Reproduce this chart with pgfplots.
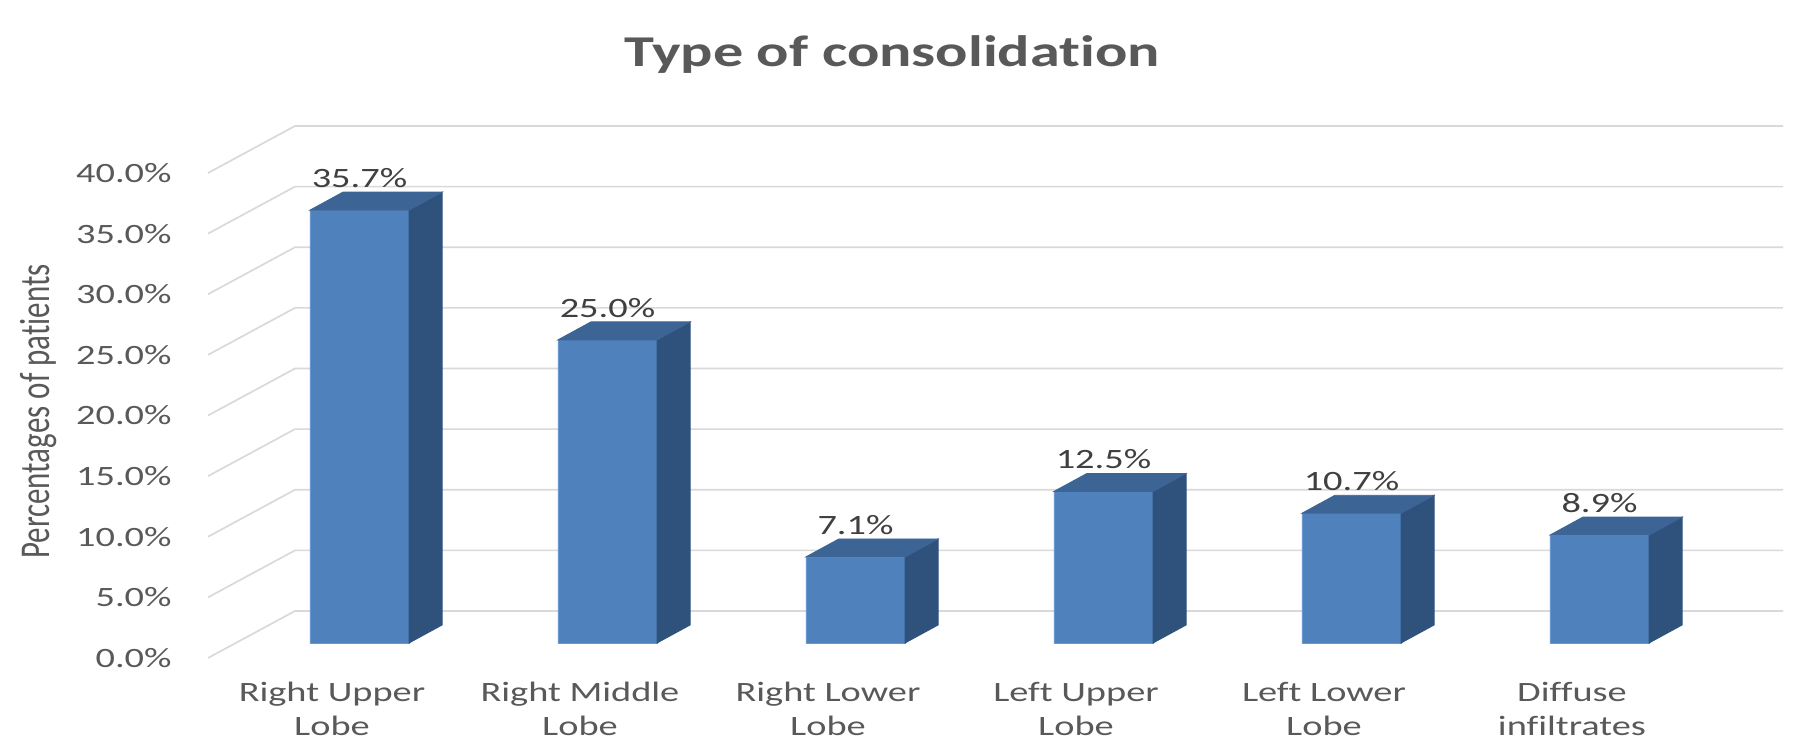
\documentclass[border=0pt]{standalone}
\usepackage{pgfplots}
\pgfplotsset{compat=1.18}
\usepackage{pgfplotstable}
\usepackage{graphicx}
\usepackage{fontspec}
\setmainfont{Carlito}[FakeStretch=1.37, Ligatures={NoCommon}]
\newfontfamily\plainfont{Carlito}[Ligatures={NoCommon}]
\definecolor{frontc}{HTML}{4F81BD}
\definecolor{topc}{HTML}{3C6494}
\definecolor{sidec}{HTML}{2F527D}
\definecolor{edgec}{HTML}{6C98D0}
\definecolor{gridc}{HTML}{D9D9D9}
\definecolor{txt}{HTML}{595959}
\definecolor{lbl}{HTML}{404040}
\pgfdeclareplotmark{nothing}{}
\pgfplotstableread{
x y
0 35.7
1 25.0
2 7.1
3 12.5
4 10.7
5 8.9
}\data
\begin{document}
\begin{tikzpicture}
\begin{axis}[
  scale only axis, width=907pt, height=378pt,
  xmin=-1.449597, xmax=5.864919,
  ymin=-9.319588, ymax=53.030928,
  hide axis, clip=false,
  /pgf/number format/assume math mode=true,
  anchor=south west, at={(0,0)},
]
\path (rel axis cs:0,0) rectangle (rel axis cs:1,1);
% wall grid, side diagonals and tick labels
\pgfplotsinvokeforeach{0,5,...,40}{
  \draw[gridc, line width=0.85pt] (axis cs:-0.6109,#1) ++(axis direction cs:0,-1.237) -- ++(axis direction cs:0.3508,3.876) -- ++(axis direction cs:6,0);
  \node[anchor=east, text=txt, font=\fontsize{14}{16}\selectfont, inner sep=0pt, yshift=-7.5pt] at (axis cs:-0.756,#1) {\pgfmathprintnumber[fixed,fixed zerofill,precision=1]{#1}\%};
}
% front faces of the bars with value labels
\addplot[ybar, bar width=0.4, fill=frontc, draw=edgec, line width=0.4pt,
  nodes near coords={\pgfmathprintnumber[fixed,fixed zerofill,precision=1]{\pgfplotspointmeta}\%},
  every node near coord/.append style={anchor=base, yshift=11.25pt, text=lbl, font=\fontsize{14}{16}\selectfont, inner sep=0pt}]
  table[x=x,y=y]{\data};
% side and top faces of the bars
\addplot[scatter, only marks, mark=nothing,
  visualization depends on={rawy \as \val},
  scatter/@pre marker code/.code={
    \fill[sidec] (axis direction cs:0.2,0) -- ++(axis direction cs:0.1331,1.4845) -- ++(axis direction cs:0,-\val) -- ++(axis direction cs:-0.1331,-1.4845) -- cycle;
    \fill[topc] (axis direction cs:-0.2,0) -- (axis direction cs:0.2,0) -- ++(axis direction cs:0.1331,1.4845) -- ++(axis direction cs:-0.4,0) -- cycle;
  },
  scatter/@post marker code/.code={}]
  table[x=x,y=y]{\data};
% title
\node[anchor=base, text=txt, font=\fontsize{22}{26}\selectfont\bfseries] at (axis cs:2.147,47.51) {Type of consolidation};
% y label
\node[rotate=90, anchor=base, text=txt, inner sep=0pt] at (axis cs:-1.252,19.09) {\scalebox{1}[1.37]{\plainfont\fontsize{15.5}{18}\selectfont Percentages of patients}};
% category labels
\node[anchor=base, text=txt, font=\fontsize{14}{16}\selectfont] at (axis cs:-0.1109,-4.866) {Right Upper};
\node[anchor=base, text=txt, font=\fontsize{14}{16}\selectfont] at (axis cs:-0.1109,-7.670) {Lobe};
\node[anchor=base, text=txt, font=\fontsize{14}{16}\selectfont] at (axis cs:0.8891,-4.866) {Right Middle};
\node[anchor=base, text=txt, font=\fontsize{14}{16}\selectfont] at (axis cs:0.8891,-7.670) {Lobe};
\node[anchor=base, text=txt, font=\fontsize{14}{16}\selectfont] at (axis cs:1.8891,-4.866) {Right Lower};
\node[anchor=base, text=txt, font=\fontsize{14}{16}\selectfont] at (axis cs:1.8891,-7.670) {Lobe};
\node[anchor=base, text=txt, font=\fontsize{14}{16}\selectfont] at (axis cs:2.8891,-4.866) {Left Upper};
\node[anchor=base, text=txt, font=\fontsize{14}{16}\selectfont] at (axis cs:2.8891,-7.670) {Lobe};
\node[anchor=base, text=txt, font=\fontsize{14}{16}\selectfont] at (axis cs:3.8891,-4.866) {Left Lower};
\node[anchor=base, text=txt, font=\fontsize{14}{16}\selectfont] at (axis cs:3.8891,-7.670) {Lobe};
\node[anchor=base, text=txt, font=\fontsize{14}{16}\selectfont] at (axis cs:4.8891,-4.866) {Diffuse};
\node[anchor=base, text=txt, font=\fontsize{14}{16}\selectfont] at (axis cs:4.8891,-7.670) {infiltrates};
\end{axis}
\end{tikzpicture}
\end{document}
